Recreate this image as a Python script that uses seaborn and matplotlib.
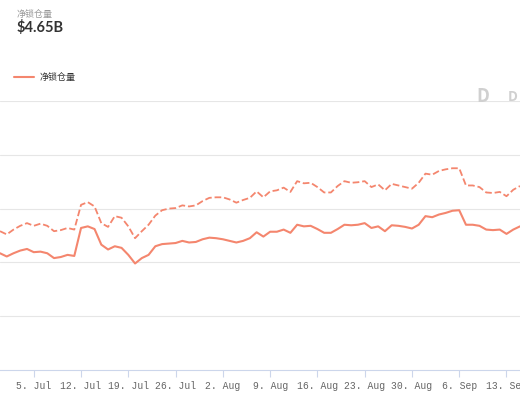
import matplotlib
matplotlib.use("Agg")
import matplotlib.pyplot as plt
import matplotlib.dates as mdates
import seaborn as sns
import numpy as np
import pandas as pd

# daily values, 30 Jun .. 15 Sep (units: gridline steps)
dates = pd.date_range("2021-06-30", periods=78, freq="D")
tvl_solid = [2.17, 2.11, 2.17, 2.22, 2.25, 2.19, 2.20, 2.17, 2.08, 2.10, 2.14, 2.12, 2.64,
             2.67, 2.62, 2.33, 2.24, 2.30, 2.27, 2.14, 1.98, 2.08, 2.14, 2.30, 2.34, 2.35,
             2.36, 2.40, 2.37, 2.38, 2.43, 2.46, 2.45, 2.43, 2.40, 2.37, 2.40, 2.45, 2.56,
             2.48, 2.57, 2.57, 2.61, 2.55, 2.70, 2.67, 2.68, 2.62, 2.55, 2.55, 2.62, 2.70,
             2.69, 2.70, 2.73, 2.64, 2.67, 2.58, 2.69, 2.68, 2.66, 2.63, 2.70, 2.86, 2.84,
             2.89, 2.92, 2.96, 2.97, 2.70, 2.70, 2.68, 2.61, 2.60, 2.61, 2.53, 2.61, 2.67]
tvl_dashed = [2.58, 2.52, 2.61, 2.68, 2.73, 2.68, 2.72, 2.68, 2.58, 2.60, 2.64, 2.61, 3.07,
              3.12, 3.04, 2.73, 2.66, 2.86, 2.83, 2.67, 2.45, 2.58, 2.70, 2.87, 2.97, 3.00,
              3.01, 3.06, 3.04, 3.06, 3.14, 3.20, 3.21, 3.21, 3.17, 3.11, 3.16, 3.20, 3.32,
              3.21, 3.32, 3.34, 3.39, 3.31, 3.51, 3.47, 3.48, 3.40, 3.30, 3.30, 3.42, 3.51,
              3.48, 3.49, 3.51, 3.40, 3.45, 3.34, 3.46, 3.43, 3.40, 3.37, 3.48, 3.65, 3.63,
              3.70, 3.73, 3.75, 3.75, 3.43, 3.43, 3.40, 3.30, 3.29, 3.31, 3.23, 3.35, 3.42]
tick_dates = pd.date_range("2021-07-05", "2021-09-13", freq="7D")

df = pd.DataFrame({"date": dates, "solid": tvl_solid, "dashed": tvl_dashed})

sns.set_theme(style="white")
plt.rcParams["font.family"] = ["Noto Sans CJK SC", "DejaVu Sans"]
color = "#f4866e"

fig = plt.figure(figsize=(5.2, 4.0), dpi=100)
ax = fig.add_axes([0, 0.075, 1, 0.6725])
sns.lineplot(data=df, x="date", y="solid", ax=ax, color=color, lw=1.5)
sns.lineplot(data=df, x="date", y="dashed", ax=ax, color=color, lw=1.3, ls="--")

ax.set_ylim(0, 5)
ax.set_xlim(dates[0], dates[0] + pd.Timedelta(days=77))
ax.set_yticks([1, 2, 3, 4, 5])
ax.yaxis.grid(True, color="#e6e6e6", lw=0.8)
ax.set_yticklabels([])
ax.tick_params(axis="y", length=0)
ax.set_xticks(tick_dates)
ax.set_xticklabels([f"{d.day}. {d.strftime('%b')}" for d in tick_dates],
                   family="Liberation Mono", fontsize=7, color="#666666")
ax.tick_params(axis="x", length=5, color="#ccd6eb", width=0.8, pad=3, direction="out")
ax.xaxis.set_tick_params(bottom=True)
ax.set_xlabel("")
ax.set_ylabel("")
for s in ["top", "left", "right"]:
    ax.spines[s].set_visible(False)
ax.spines["bottom"].set_color("#ccd6eb")
ax.spines["bottom"].set_linewidth(0.8)

fig.text(17 / 520, 1 - 14 / 400, "净锁仓量", fontsize=6.5, color="#999999", va="center")
fig.text(17 / 520, 1 - 28 / 400, "$4.65B", fontsize=10.5, color="#333333", va="center",
         family="Lato", weight="bold")
fig.add_artist(plt.Line2D([14 / 520, 34 / 520], [1 - 77 / 400] * 2, color=color, lw=1.5))
fig.text(40 / 520, 1 - 77 / 400, "净锁仓量", fontsize=6.5, color="#333333", va="center")
fig.text(476 / 520, 1 - 97 / 400, "D", fontsize=13, color="#d0d0d0", va="center", weight="bold")
fig.text(508 / 520, 1 - 97 / 400, "D", fontsize=10, color="#d0d0d0", va="center", weight="bold")

fig.savefig("out.png", dpi=100)
